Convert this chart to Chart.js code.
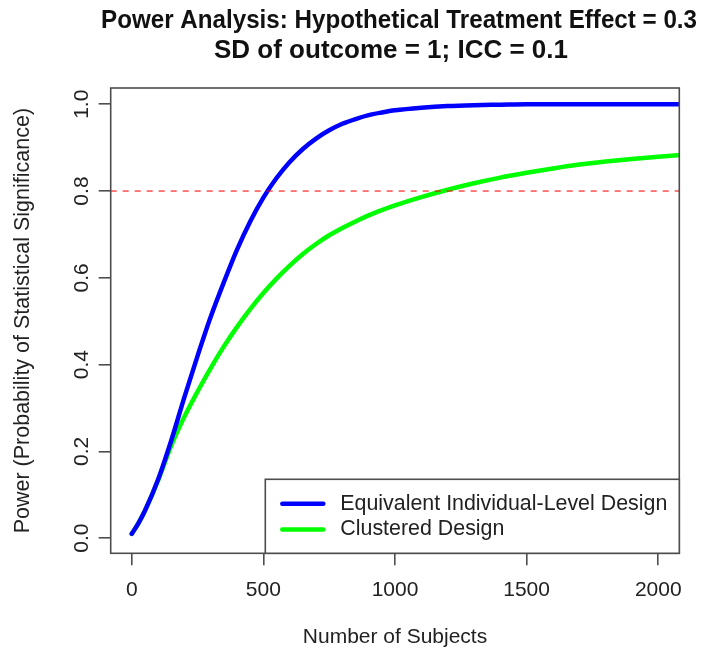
<!DOCTYPE html>
<html>
<head>
<meta charset="utf-8">
<script src="https://cdn.jsdelivr.net/npm/chart.js"></script>
<style>
  html, body { margin: 0; padding: 0; background: #ffffff; }
  canvas { display: block; }
</style>
</head>
<body>
<canvas id="grafico" width="709" height="654"></canvas>
<script>
// Datos
const subjects = [0, 25, 50, 100, 150, 200, 250, 300, 350, 400, 450, 500, 550, 600, 650, 700, 750, 800, 850, 900, 950, 1000,
                  1100, 1200, 1300, 1400, 1500, 1600, 1700, 1800, 1900, 2000, 2100];
const powerIndividual = [0.010, 0.034, 0.063, 0.135, 0.225, 0.325, 0.420, 0.510, 0.590, 0.665, 0.730, 0.785, 0.830, 0.867, 0.897, 0.921, 0.940, 0.955, 0.966, 0.975, 0.981, 0.986,
                         0.992, 0.996, 0.998, 0.999, 1.000, 1.000, 1.000, 1.000, 1.000, 1.000, 1.000];
const powerClustered = [0.010, 0.034, 0.063, 0.133, 0.213, 0.280, 0.338, 0.392, 0.442, 0.487, 0.528, 0.565, 0.598, 0.628, 0.655, 0.678, 0.698, 0.715, 0.730, 0.744, 0.756, 0.767,
                        0.786, 0.803, 0.818, 0.831, 0.842, 0.852, 0.861, 0.868, 0.874, 0.879, 0.884];
const seriesLabels = ['Equivalent Individual-Level Design', 'Clustered Design'];
const seriesColors = ['#0000ff', '#00ff00'];
const xTicks = [0, 500, 1000, 1500, 2000];
const yTicks = [0, 0.2, 0.4, 0.6, 0.8, 1.0];
const yTickLabels = ['0.0', '0.2', '0.4', '0.6', '0.8', '1.0'];
const targetPower = 0.8;
const titleLines = ['Power Analysis: Hypothetical Treatment Effect = 0.3', 'SD of outcome = 1; ICC = 0.1'];
const xTitle = 'Number of Subjects';
const yTitle = 'Power (Probability of Statistical Significance)';

document.addEventListener('DOMContentLoaded', function() {
    const ctx = document.getElementById('grafico').getContext('2d');
    const fontFamily = '"Liberation Sans", Arial, Helvetica, sans-serif';
    const textColor = '#222222';
    const axisColor = '#4d4d4d';

    // Dibuja titulos, etiquetas del eje y, caja, linea de referencia y leyenda
    const baseRPlot = {
        id: 'baseRPlot',
        afterDatasetsDraw(chart) {
            const c = chart.ctx;
            const area = chart.chartArea;
            const ys = chart.scales.y;
            const midX = (area.left + area.right) / 2;

            c.save();
            // linea de referencia (potencia 0.8)
            const yRef = ys.getPixelForValue(targetPower);
            c.strokeStyle = 'rgba(255, 0, 0, 0.8)';
            c.lineWidth = 1.3;
            c.setLineDash([6, 6]);
            c.beginPath();
            c.moveTo(area.left, yRef);
            c.lineTo(area.right, yRef);
            c.stroke();
            c.setLineDash([]);

            // caja del grafico
            c.strokeStyle = axisColor;
            c.lineWidth = 1.6;
            c.strokeRect(area.left, area.top, area.right - area.left, area.bottom - area.top);

            // titulo (fuente algo estrecha como en el original)
            c.fillStyle = '#111111';
            c.textAlign = 'center';
            c.textBaseline = 'middle';
            c.font = 'bold 26px ' + fontFamily;
            c.fillText(titleLines[0], midX + 4, 21, 596);
            c.fillText(titleLines[1], midX - 4, 51, 356);

            // titulos de ejes
            c.fillStyle = textColor;
            c.font = '21px ' + fontFamily;
            c.fillText(xTitle, midX, 637);
            c.save();
            c.translate(23, (area.top + area.bottom) / 2);
            c.rotate(-Math.PI / 2);
            c.font = '21.5px ' + fontFamily;
            c.fillText(yTitle, 0, 0);
            c.restore();

            // etiquetas del eje y (rotadas como en R)
            yTicks.forEach(function(v, i) {
                c.save();
                c.translate(82, ys.getPixelForValue(v));
                c.rotate(-Math.PI / 2);
                c.fillText(yTickLabels[i], 0, 0);
                c.restore();
            });

            // leyenda abajo a la derecha
            const lgW = 414, lgH = 74;
            const lgX = area.right - lgW, lgY = area.bottom - lgH;
            c.fillStyle = '#ffffff';
            c.fillRect(lgX, lgY, lgW, lgH);
            c.strokeStyle = axisColor;
            c.lineWidth = 1.6;
            c.strokeRect(lgX, lgY, lgW, lgH);
            c.lineCap = 'round';
            c.lineWidth = 4.5;
            c.textAlign = 'left';
            c.font = '21.4px ' + fontFamily;
            seriesLabels.forEach(function(label, i) {
                const ly = lgY + 24.5 + i * 25.6;
                c.strokeStyle = seriesColors[i];
                c.beginPath();
                c.moveTo(lgX + 17, ly);
                c.lineTo(lgX + 58, ly);
                c.stroke();
                c.fillStyle = textColor;
                c.fillText(label, lgX + 75, ly);
            });
            c.restore();
        }
    };

    const myChart = new Chart(ctx, {
        type: 'line',
        data: {
            datasets: [{
                label: seriesLabels[0],
                data: subjects.map((s, i) => ({ x: s, y: powerIndividual[i] })),
                borderColor: seriesColors[0],
                borderWidth: 4.5,
                borderCapStyle: 'round',
                pointRadius: 0,
                cubicInterpolationMode: 'monotone',
                fill: false,
                clip: 0
            }, {
                label: seriesLabels[1],
                data: subjects.map((s, i) => ({ x: s, y: powerClustered[i] })),
                borderColor: seriesColors[1],
                borderWidth: 4.5,
                borderCapStyle: 'round',
                pointRadius: 0,
                cubicInterpolationMode: 'monotone',
                fill: false,
                clip: 0
            }]
        },
        options: {
            responsive: false,
            animation: false,
            devicePixelRatio: 1,
            layout: { padding: { top: 88, right: 29.7, left: 0, bottom: 0 } },
            plugins: {
                legend: { display: false },
                title: { display: false },
                tooltip: { enabled: false }
            },
            scales: {
                x: {
                    type: 'linear',
                    min: -80,
                    max: 2080,
                    afterBuildTicks: function(scale) {
                        scale.ticks = xTicks.map(v => ({ value: v }));
                    },
                    afterFit: function(scale) { scale.height = 100.7; },
                    border: { display: false },
                    grid: { drawOnChartArea: false, drawTicks: true, tickLength: 12, color: axisColor, lineWidth: 1.6 },
                    ticks: {
                        color: textColor,
                        font: { family: fontFamily, size: 21 },
                        padding: 12,
                        maxRotation: 0,
                        autoSkip: false,
                        callback: function(value) { return String(value); }
                    }
                },
                y: {
                    type: 'linear',
                    min: -0.035,
                    max: 1.0375,
                    afterBuildTicks: function(scale) {
                        scale.ticks = yTicks.map(v => ({ value: v }));
                    },
                    afterFit: function(scale) { scale.width = 110.7; },
                    border: { display: false },
                    grid: { drawOnChartArea: false, drawTicks: true, tickLength: 12, color: axisColor, lineWidth: 1.6 },
                    ticks: {
                        display: false
                    }
                }
            }
        },
        plugins: [baseRPlot]
    });
});
</script>
</body>
</html>
